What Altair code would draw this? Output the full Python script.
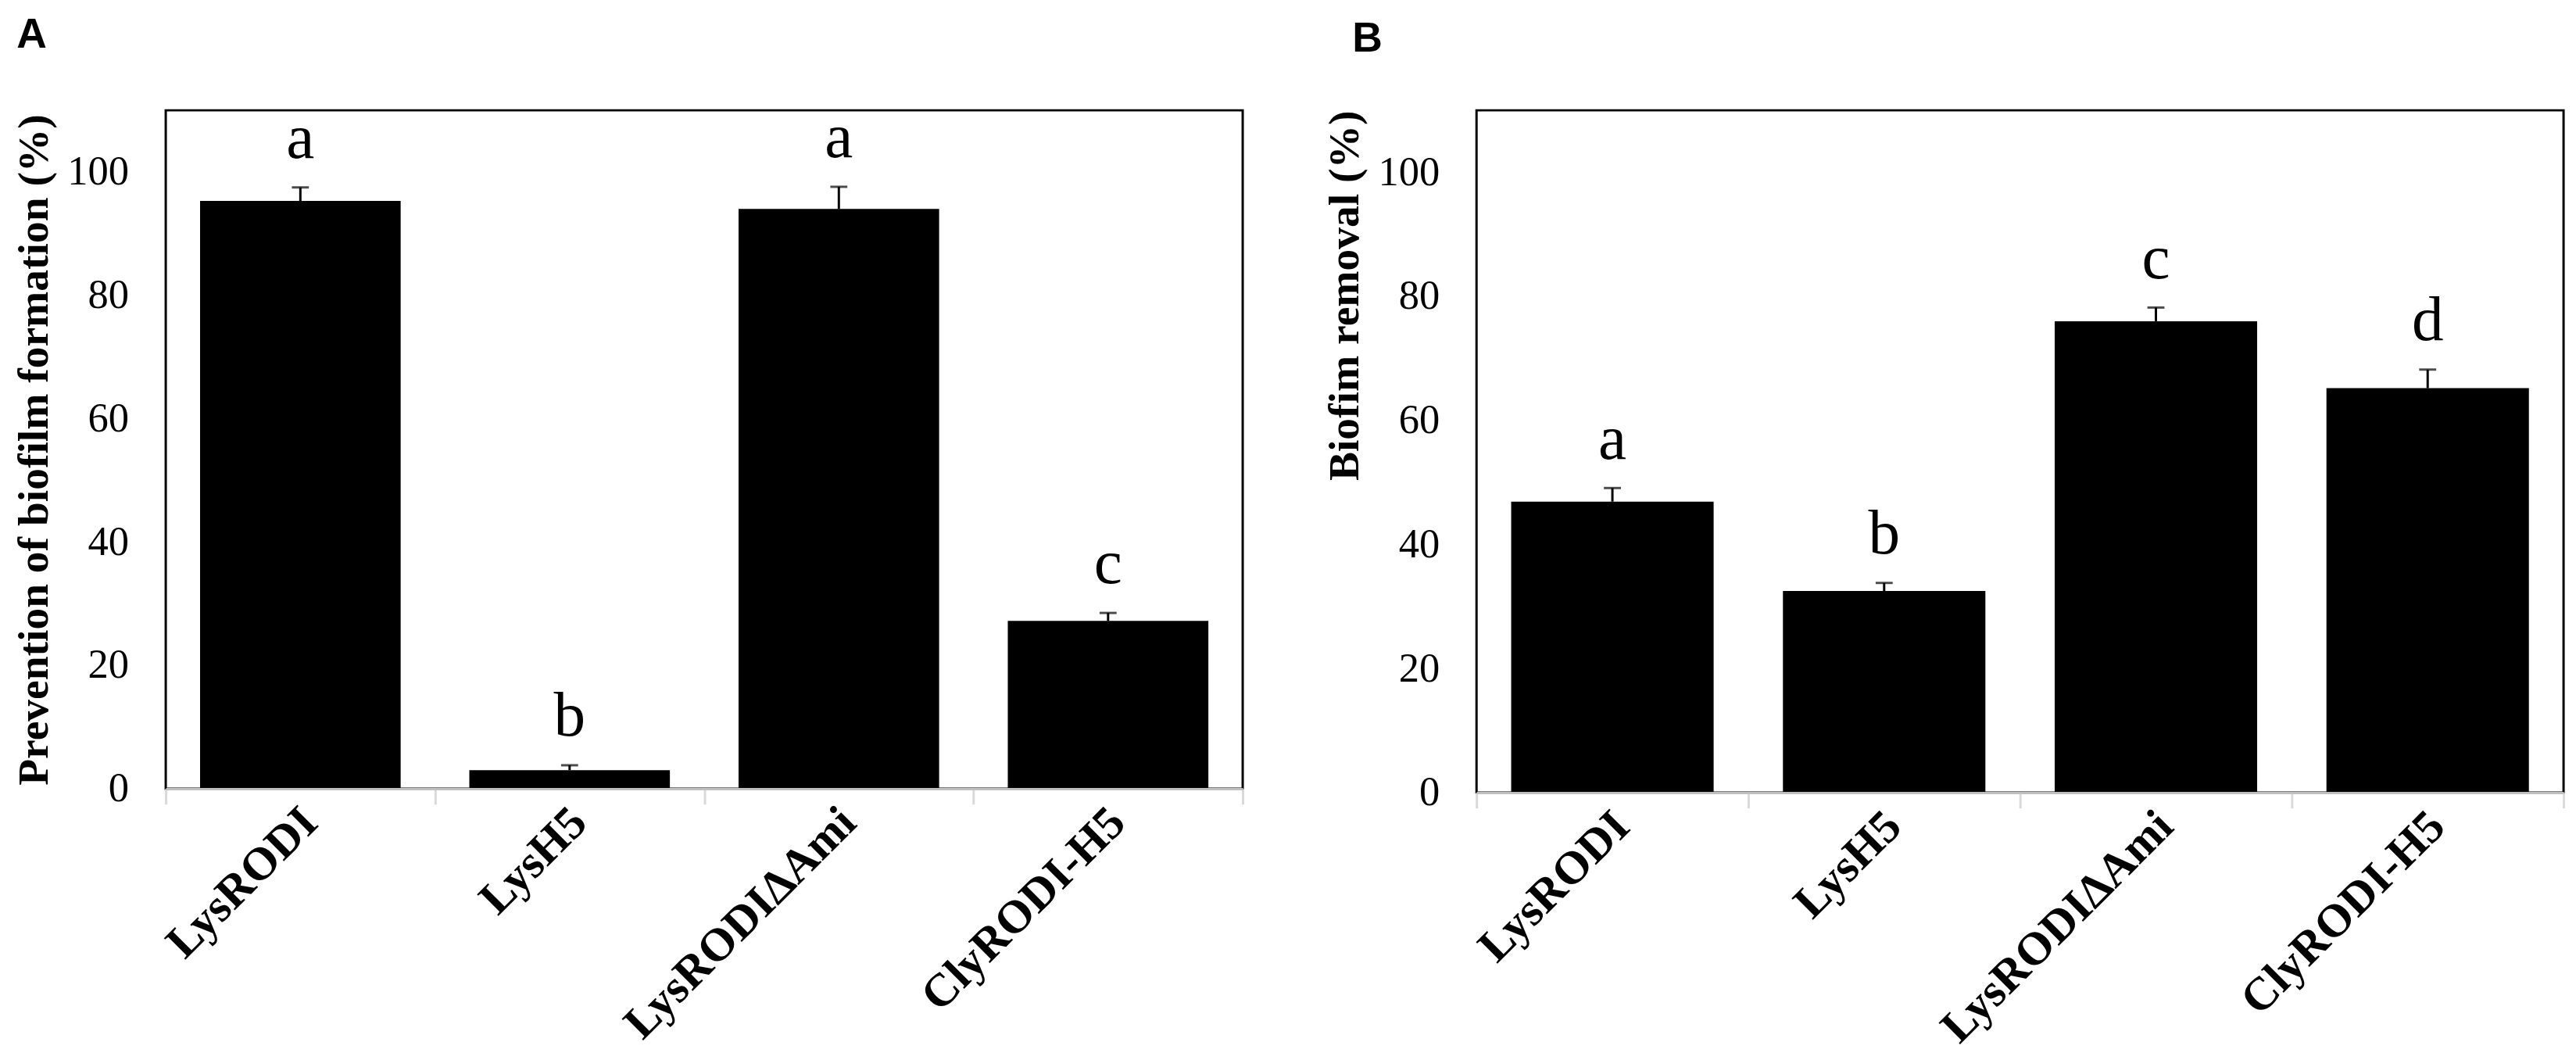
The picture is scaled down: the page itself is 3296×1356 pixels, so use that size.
import altair as alt
import pandas as pd

categories = ["LysRODI", "LysH5", "LysRODIΔAmi", "ClyRODI-H5"]

prev_values = [95.3, 3.0, 94.0, 27.2]
prev_errors = [2.2, 0.8, 3.6, 1.3]
prev_letters = ["a", "b", "a", "c"]

rem_values = [46.9, 32.5, 76.0, 65.2]
rem_errors = [2.2, 1.3, 2.2, 3.0]
rem_letters = ["a", "b", "c", "d"]

y_ticks = [0, 20, 40, 60, 80, 100]

SERIF = "Liberation Serif"
SANS = "Liberation Sans"


def make_df(vals, errs, letters):
    return pd.DataFrame({
        "cat": categories,
        "val": vals,
        "top": [v + e for v, e in zip(vals, errs)],
        "letter": letters,
    })


def panel(df, ytitle, panel_label, width, height, title_anchor, label_dx):
    x = alt.X("cat:N", sort=categories, title=None,
              scale=alt.Scale(paddingInner=0, paddingOuter=0),
              axis=alt.Axis(labelAngle=-45, labelFont=SERIF, labelFontWeight="bold",
                            labelFontSize=60, labelColor="black", labelLimit=0,
                            labelAlign="right", labelBaseline="middle",
                            labelPadding=14, labelOffset=12,
                            tickBand="extent", tickSize=20, tickColor="#d9d9d9",
                            tickWidth=3, domainColor="#bfbfbf", domainWidth=3,
                            zindex=1))
    y = alt.Y("val:Q", title=ytitle,
              scale=alt.Scale(domain=[0, 110], nice=False),
              axis=alt.Axis(values=y_ticks, ticks=False, grid=False, domain=False,
                            labelFont=SERIF, labelFontSize=53, labelColor="black",
                            labelPadding=48, titleFont=SERIF, titleFontWeight="bold",
                            titleFontSize=56, titleColor="black", titlePadding=14,
                            titleAnchor=title_anchor))
    base = alt.Chart(df)
    bars = base.mark_bar(color="black", width={"band": 0.745}).encode(x=x, y=y)
    err = base.mark_rule(color="black", strokeWidth=3).encode(
        x=alt.X("cat:N", sort=categories), y="val:Q", y2="top:Q")
    cap = base.mark_tick(color="black", orient="horizontal", size=22, thickness=3).encode(
        x=alt.X("cat:N", sort=categories), y="top:Q")
    txt = base.mark_text(font=SERIF, fontSize=82, color="black", baseline="alphabetic",
                         dy=-38).encode(
        x=alt.X("cat:N", sort=categories), y="top:Q", text="letter:N")
    return alt.layer(bars, err, cap, txt).properties(
        width=width, height=height,
        title=alt.TitleParams(panel_label, anchor="start", frame="bounds",
                              font=SANS, fontWeight="bold", fontSize=54,
                              color="black", offset=65, dx=label_dx))


chart_a = panel(make_df(prev_values, prev_errors, prev_letters),
                "Prevention of biofilm formation (%)", "A", 1391, 876, "middle", 6)
chart_b = panel(make_df(rem_values, rem_errors, rem_letters),
                "Biofim removal (%)", "B", 1404, 881, "end", 38)

chart = alt.hconcat(chart_a, chart_b, spacing=98).configure(
    background="white", padding={"left": 6, "top": 2, "right": 5, "bottom": 5}
).configure_view(stroke="black", strokeWidth=3)

chart.save("out.html", embed_options={"renderer": "svg", "actions": False})
